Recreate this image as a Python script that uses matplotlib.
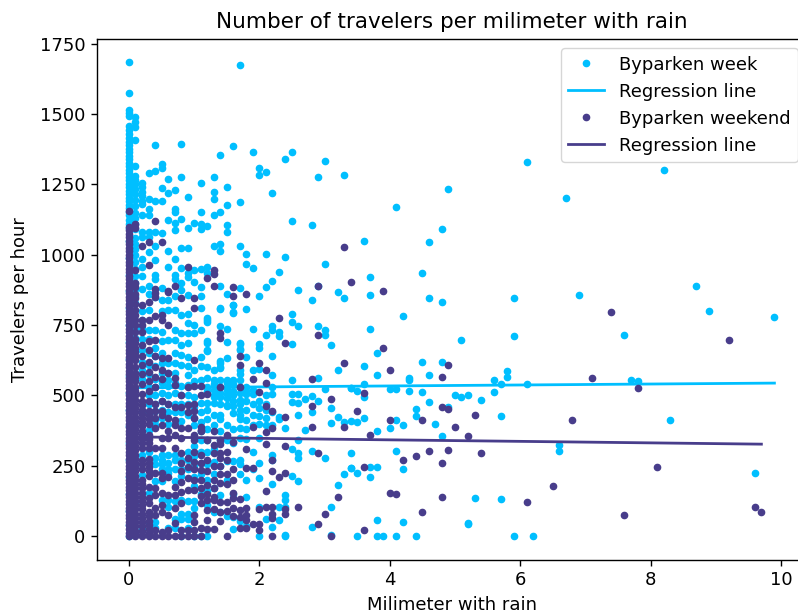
import matplotlib
matplotlib.use("Agg")
import matplotlib.pyplot as plt

# one list of travelers per rain amount
week_rain = [0.0, 0.1, 0.2, 0.3, 0.4, 0.5, 0.6, 0.7, 0.8, 0.9,
             1.0, 1.1, 1.2, 1.3, 1.4, 1.5, 1.6, 1.7, 1.8, 1.9,
             2.0, 2.1, 2.2, 2.3, 2.4, 2.5, 2.6, 2.7, 2.8, 2.9,
             3.0, 3.1, 3.2, 3.3, 3.4, 3.5, 3.6, 3.7, 3.8, 3.9,
             4.0, 4.1, 4.2, 4.3, 4.4, 4.5, 4.6, 4.7, 4.8, 4.9,
             5.0, 5.1, 5.2, 5.3, 5.4, 5.6, 5.7, 5.8, 5.9, 6.1,
             6.2, 6.6, 6.7, 6.9, 7.6, 7.7, 7.8, 8.2, 8.3, 8.7,
             8.9, 9.6, 9.9]
week_counts = [
    [0, 40, 90, 150, 210, 270, 330, 390, 450, 510, 570, 630, 690, 750, 810, 870, 930, 990, 1050, 1095, 1110, 1125,
     1140, 1152, 1165, 1178, 1190, 1203, 1215, 1228, 1240, 1252, 1265, 1277, 1290, 1302, 1315, 1327, 1340, 1352,
     1365, 1377, 1390, 1402, 1415, 1428, 1444, 1458, 1492, 1503, 1514, 1574, 1685],
    [1491, 1472, 1453, 1408, 1316, 1280, 1266, 1250, 1235, 1215, 1195, 1175, 1150, 1130, 1110, 1090, 1060, 1040,
     1020, 1000, 975, 950, 925, 900, 880, 855, 830, 740, 705, 655, 400, 250, 120, 20],
    [1255, 1240, 1225, 1210, 1190, 1180, 1140, 1081, 1065, 986, 955, 925, 880, 800, 770, 740, 700, 660, 620, 590,
     560, 440, 290, 218, 30],
    [1289, 1197, 1162, 1143, 1081, 1065, 1009, 889, 860, 804, 733, 700, 650, 610, 575, 530, 500, 470, 440, 378,
     300, 152, 45],
    [1389, 1298, 1193, 1081, 1031, 982, 927, 913, 850, 733, 668, 640, 603, 560, 530, 500, 470, 445, 413, 395, 277,
     255, 195, 52, 30],
    [1321, 1308, 1239, 1193, 1076, 881, 840, 800, 727, 692, 650, 615, 580, 545, 510, 480, 450, 420, 290, 270, 255,
     240, 195, 130],
    [1271, 1220, 1124, 1014, 958, 840, 804, 698, 615, 580, 555, 532, 500, 470, 440, 400, 290, 260, 240, 225, 130,
     105, 30],
    [1229, 1162, 1152, 1114, 1087, 986, 927, 913, 852, 804, 733, 698, 650, 615, 580, 545, 508, 470, 440, 400, 290,
     270, 240, 195, 125, 60, 30],
    [1394, 1276, 1129, 1023, 953, 899, 876, 787, 721, 680, 644, 609, 532, 500, 470, 440, 410, 270, 240, 215, 130,
     80, 60, 0],
    [1207, 1095, 1023, 934, 920, 857, 790, 757, 721, 686, 638, 603, 573, 538, 502, 470, 430, 300, 270, 240, 125, 80,
     60, 30],
    [1114, 945, 903, 751, 721, 591, 550, 496, 460, 420, 395, 320, 285, 250, 210, 180, 125, 100, 0],
    [1257, 1151, 1110, 1091, 950, 886, 853, 812, 733, 638, 603, 555, 472, 440, 405, 375, 340, 300, 260, 220, 150, 0],
    [1103, 958, 934, 774, 769, 761, 692, 687, 662, 659, 600, 561, 530, 515, 472, 448, 416, 380, 340, 300, 255, 200,
     160, 110, 0],
    [1276, 1225, 1197, 1143, 1031, 590, 555, 540, 520, 500, 495, 472, 430, 395, 310, 265, 220, 170, 85],
    [1353, 1151, 1037, 1014, 890, 810, 807, 747, 621, 617, 600, 597, 555, 530, 508, 495, 470, 430, 415, 375, 340,
     250, 148, 85],
    [1242, 1178, 1105, 1082, 862, 737, 691, 632, 555, 545, 525, 520, 505, 490, 467, 462, 395, 340, 266, 200, 70],
    [1385, 822, 821, 798, 793, 555, 540, 515, 500, 480, 461, 436, 380, 330, 266, 150, 68, 27],
    [1675, 1188, 1031, 881, 686, 683, 664, 662, 590, 575, 555, 530, 510, 485, 470, 450, 430, 415, 385, 350, 270, 256,
     220, 55],
    [1004, 967, 807, 636, 530, 515, 505, 480, 448, 412, 380, 345, 199, 140, 35],
    [1367, 953, 737, 590, 520, 505, 470, 430, 395, 300, 240],
    [1308, 1284, 852, 683, 668, 594, 480, 455, 426, 400, 350, 260, 205, 105, 0],
    [1293, 1004, 886, 715, 500, 470, 450, 420, 395, 60],
    [1220, 908, 747, 732, 641, 572, 530, 505, 440, 395, 290, 270, 187, 33],
    [940, 724, 710, 424, 415, 104, 57],
    [1340, 991, 384, 148, 128, 104, 5, 0],
    [1367, 1119, 788, 761, 683, 555, 507, 476, 309, 213],
    [876, 747, 507, 472, 430, 341, 296, 276, 195],
    [486, 379],
    [1105, 840, 499, 440, 301, 33],
    [1276, 890, 747, 563, 480],
    [1335, 967, 732, 715, 522, 278],
    [678, 457, 403, 104, 5],
    [867, 590, 424, 182],
    [1284, 848, 407, 220],
    [410, 296, 243, 242, 525, 525],
    [517, 407, 224, 0],
    [1050, 605, 541, 495, 421],
    [921, 857, 738, 247, 210],
    [650, 573, 375, 247, 58, 0],
    [0],
    [522, 384],
    [1169, 522, 412, 301, 0],
    [784, 394, 237, 49],
    [563, 554, 517],
    [453, 426, 0],
    [936, 618, 512],
    [1046, 848, 573, 476],
    [399],
    [1091, 834, 618, 357],
    [1233, 458],
    [503],
    [696, 495],
    [503, 47, 42],
    [135],
    [485],
    [554, 512],
    [541, 426, 132],
    [586, 567],
    [848, 710, 0],
    [1330, 541],
    [0],
    [324, 301],
    [1201],
    [857],
    [715],
    [555],
    [550],
    [1302],
    [412],
    [889],
    [801],
    [224],
    [779],
]

weekend_rain = [0.0, 0.1, 0.2, 0.3, 0.4, 0.5, 0.6, 0.7, 0.8, 0.9,
                1.0, 1.1, 1.2, 1.3, 1.4, 1.5, 1.6, 1.7, 1.8, 1.9,
                2.0, 2.1, 2.2, 2.3, 2.4, 2.6, 2.8, 2.9, 3.0, 3.1,
                3.2, 3.3, 3.4, 3.5, 3.6, 3.7, 3.9, 4.0, 4.1, 4.2,
                4.4, 4.5, 4.6, 4.8, 4.9, 5.0, 5.2, 5.3, 5.4, 6.1,
                6.5, 6.8, 7.1, 7.4, 7.6, 7.8, 8.1, 9.2, 9.6, 9.7]
weekend_counts = [
    [0, 12, 25, 38, 50, 63, 75, 88, 100, 113, 125, 138, 150, 163, 175, 188, 200, 213, 225, 238, 250, 263, 275, 288,
     300, 313, 325, 338, 350, 363, 375, 388, 400, 413, 425, 438, 450, 463, 475, 488, 500, 513, 525, 538, 550, 563,
     575, 588, 600, 613, 625, 638, 650, 663, 675, 688, 700, 713, 725, 738, 750, 763, 775, 788, 800, 813, 825, 838,
     850, 863, 875, 888, 900, 913, 925, 938, 950, 963, 975, 988, 1000, 1013, 1025, 1038, 1050, 1063, 1075, 1088,
     1100, 1156],
    [1110, 1095, 945, 899, 887, 860, 845, 825, 805, 785, 770, 750, 725, 700, 685, 670, 655, 640, 625, 600, 580, 565,
     550, 530, 515, 500, 485, 470, 455, 440, 425, 410, 395, 380, 365, 350, 335, 320, 305, 290, 275, 260, 245, 230,
     215, 200, 185, 170, 155, 140, 125, 110, 95, 80, 65, 50, 35, 20, 10, 0],
    [1031, 820, 768, 750, 725, 680, 640, 610, 575, 540, 505, 480, 465, 450, 435, 420, 405, 390, 375, 360, 345, 330,
     315, 270, 255, 240, 200, 185, 170, 155, 140, 125, 110, 95, 80, 65, 50, 35, 20, 5, 0],
    [1046, 964, 834, 770, 692, 660, 620, 585, 550, 515, 480, 445, 430, 415, 400, 360, 345, 330, 315, 275, 260, 245,
     230, 215, 175, 135, 118, 85, 70, 55, 40, 25, 10, 0],
    [1119, 880, 866, 850, 781, 698, 640, 600, 565, 530, 470, 445, 420, 384, 313, 224, 170, 147, 99, 75, 22, 0],
    [1046, 787, 769, 633, 590, 560, 480, 445, 431, 395, 348, 313, 224, 206, 152, 111, 87, 16, 0],
    [870, 867, 751, 633, 580, 470, 419, 372, 348, 212, 147, 75, 22, 0],
    [890, 561, 538, 460, 413, 395, 360, 313, 176, 147, 99, 46, 0],
    [845, 500, 460, 384, 348, 295, 260, 230, 194, 158, 117, 22, 0],
    [958, 531, 465, 440, 384, 277, 245, 206, 164, 22, 0],
    [845, 810, 627, 532, 470, 445, 420, 360, 342, 300, 265, 240, 200, 164, 75, 52, 22, 0],
    [532, 502, 388, 378, 374, 289, 259, 235, 200, 170, 141, 117, 28, 0],
    [916, 504, 341, 270, 230, 183, 150, 130, 92, 59, 25],
    [945, 931, 890, 374, 323, 296, 250, 201, 170, 140, 128, 96, 25],
    [723, 705, 531, 341, 327, 296, 278, 250, 222, 190, 120, 86, 54],
    [360, 300, 270, 222, 187, 120, 90, 0],
    [886, 852, 335, 240, 200, 154, 134, 100, 70],
    [641, 608, 531, 131, 92, 68, 28],
    [862, 310, 243, 100, 75, 57, 28],
    [558, 388, 243, 42],
    [617, 513, 95, 42, 21],
    [590, 545, 463, 370, 329, 160, 105],
    [444, 384, 270, 232, 105, 80, 63, 0],
    [774, 211],
    [687, 425, 320, 225, 98, 80],
    [104],
    [558, 462, 388],
    [890, 715, 296, 42],
    [77],
    [486, 0],
    [140],
    [1028, 614, 388],
    [903],
    [444],
    [508, 247, 22],
    [361],
    [870, 669],
    [591, 412, 154],
    [150],
    [269],
    [284],
    [412, 86],
    [301],
    [567, 458, 260, 140],
    [610, 453, 306],
    [389],
    [357],
    [431],
    [297],
    [122],
    [178],
    [412],
    [562],
    [798],
    [75],
    [526],
    [246],
    [697],
    [103],
    [85],
]

week_line_x = [0.0, 9.9]
week_line_y = [527, 544]
weekend_line_x = [0.0, 9.7]
weekend_line_y = [353, 327]

week_x = [r for r, ys in zip(week_rain, week_counts) for _ in ys]
week_y = [y for ys in week_counts for y in ys]
weekend_x = [r for r, ys in zip(weekend_rain, weekend_counts) for _ in ys]
weekend_y = [y for ys in weekend_counts for y in ys]

# the right spine falls just outside the picture, as in the reference
fig = plt.figure(figsize=(7.98, 6.13), dpi=100)
ax = fig.add_axes([96.7 / 798, 53.5 / 613, 710 / 798, 520.2 / 613])

ax.plot(week_x, week_y, '.', color='deepskyblue', ms=9, label='Byparken week')
ax.plot(week_line_x, week_line_y, color='deepskyblue', lw=2, label='Regression line')
ax.plot(weekend_x, weekend_y, '.', color='darkslateblue', ms=9, label='Byparken weekend')
ax.plot(weekend_line_x, weekend_line_y, color='darkslateblue', lw=2, label='Regression line')

ax.set_xlim(-0.495, 10.395)
ax.set_ylim(-83, 1766)
ax.set_title('Number of travelers per milimeter with rain', fontsize=15.5, pad=8)
ax.set_xlabel('Milimeter with rain', fontsize=13, labelpad=5)
ax.set_ylabel('Travelers per hour', fontsize=13, labelpad=8)
ax.tick_params(labelsize=13, length=4.5, width=1)
for side in ax.spines.values():
    side.set_linewidth(1)
ax.legend(loc='upper right', fontsize=13)

fig.savefig('out.png', dpi=100)
